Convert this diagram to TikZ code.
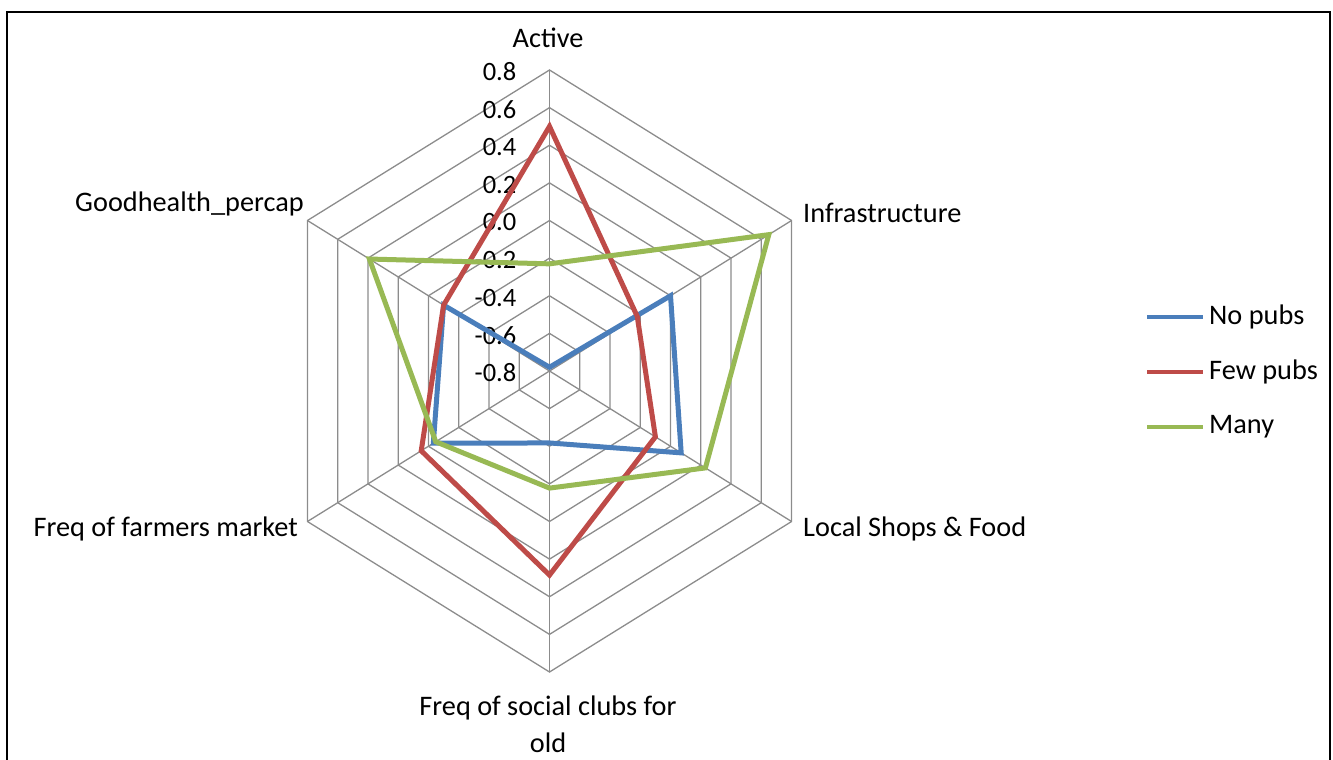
\documentclass[tikz,border=0pt]{standalone}
\usepackage{fontspec}
\setmainfont{Carlito}
\definecolor{gridc}{HTML}{8C8C8C}
\definecolor{nopub}{HTML}{4A7EBB}
\definecolor{fewpub}{HTML}{BE4B48}
\definecolor{manypub}{HTML}{98B954}
\tikzset{
  gridline/.style={draw=gridc, line width=1.3pt},
  series/.style={line width=5pt, line join=miter},
  lab/.style={inner sep=0pt, font=\fontsize{28.3}{37}\selectfont},
  tick/.style={inner sep=0pt, anchor=east, font=\fontsize{26.5}{30}\selectfont},
}
\begin{document}
\begin{tikzpicture}[x=1pt,y=-1pt]
\useasboundingbox (0,0) rectangle (1333,760);
% frame
\draw[black, line width=1.5pt] (7,790) -- (7,12) -- (1330,12) -- (1330,790);
\begin{scope}[shift={(549.5,371)}, x=279.5pt, y=301pt]
  % grid hexagons
  \foreach \k in {1,...,8}{
    \draw[gridline] (90:\k/8) -- (30:\k/8) -- (-30:\k/8) -- (-90:\k/8) -- (-150:\k/8) -- (150:\k/8) -- cycle;
  }
  % spokes
  \foreach \a in {90,30,-30,-90,-150,150}{
    \draw[gridline] (0,0) -- (\a:1);
  }
  % tick labels
  \foreach \k/\t in {0/-0.8,1/-0.6,2/-0.4,3/-0.2,4/0.0,5/0.2,6/0.4,7/0.6,8/0.8}{
    \node[tick] (tk\k) at ([xshift=-33pt,yshift=-2pt]90:\k/8) {\t};
  }
  % data series
  \coordinate (b1) at (90:0.0125);  \coordinate (b2) at (30:0.5);
  \coordinate (b3) at (-30:0.544);  \coordinate (b4) at (-90:0.239);
  \coordinate (b5) at (-150:0.48);  \coordinate (b6) at (150:0.4375);
  \coordinate (r1) at (90:0.8125);  \coordinate (r2) at (30:0.3625);
  \coordinate (r3) at (-30:0.4375); \coordinate (r4) at (-90:0.678);
  \coordinate (r5) at (-150:0.53);  \coordinate (r6) at (150:0.4375);
  \coordinate (g1) at (90:0.356);   \coordinate (g2) at (30:0.906);
  \coordinate (g3) at (-30:0.644);  \coordinate (g4) at (-90:0.389);
  \coordinate (g5) at (-150:0.47);  \coordinate (g6) at (150:0.744);
  \draw[series, nopub] (b1) -- (b2) -- (b3) -- (b4) -- (b5) -- (b6) -- cycle;
  \draw[series, fewpub] (r1) -- (r2) -- (r3) -- (r4) -- (r5) -- (r6) -- cycle;
  \draw[series, manypub] (g1) -- (g2) -- (g3) -- (g4) -- (g5) -- (g6) -- cycle;
\end{scope}
% axis labels
\node[lab] (active) at (548,38) {Active};
\node[lab, anchor=west] (infra) at (803,213) {Infrastructure};
\node[lab, anchor=west] (shops) at (803,529) {Local Shops \& Food};
\node[lab, align=center, anchor=north] (social) at (548,696) {Freq of social clubs for\\old};
\node[lab, anchor=east] (farm) at (298,529) {Freq of farmers market};
\node[lab, anchor=east] (good) at (304,204) {Goodhealth\_percap};
% legend
\coordinate (l1a) at (1147,317); \coordinate (l1b) at (1203,317);
\coordinate (l2a) at (1147,372); \coordinate (l2b) at (1203,372);
\coordinate (l3a) at (1147,427); \coordinate (l3b) at (1203,427);
\draw[nopub, line width=3.5pt] (l1a) -- (l1b);
\draw[fewpub, line width=3.5pt] (l2a) -- (l2b);
\draw[manypub, line width=3.5pt] (l3a) -- (l3b);
\node[lab, anchor=west] (lg1) at (1209,317) {No pubs};
\node[lab, anchor=west] (lg2) at (1209,372) {Few pubs};
\node[lab, anchor=west] (lg3) at (1209,427) {Many};
\end{tikzpicture}
\end{document}
